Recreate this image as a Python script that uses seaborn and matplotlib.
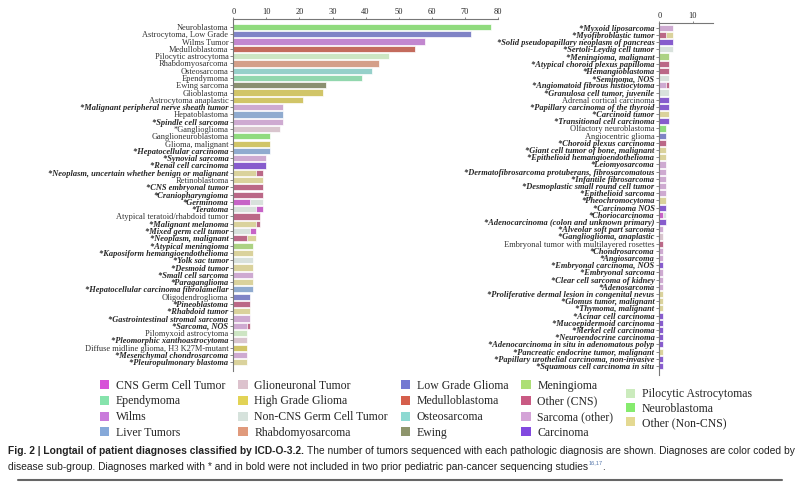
import matplotlib
matplotlib.use('Agg')
import pandas as pd
import seaborn as sns
import matplotlib.pyplot as plt
from matplotlib.patches import Patch
from matplotlib import font_manager

# --- data -------------------------------------------------------------
left_labels = [
    'Neuroblastoma', 'Astrocytoma, Low Grade', 'Wilms Tumor', 'Medulloblastoma',
    'Pilocytic astrocytoma', 'Rhabdomyosarcoma', 'Osteosarcoma', 'Ependymoma',
    'Ewing sarcoma', 'Glioblastoma', 'Astrocytoma anaplastic',
    '*Malignant peripheral nerve sheath tumor', 'Hepatoblastoma',
    '*Spindle cell sarcoma', '*Ganglioglioma', 'Ganglioneuroblastoma',
    'Glioma, malignant', '*Hepatocellular carcinoma', '*Synovial sarcoma',
    '*Renal cell carcinoma', '*Neoplasm, uncertain whether benign or malignant',
    'Retinoblastoma', '*CNS embryonal tumor', '*Craniopharyngioma', '*Germinoma',
    '*Teratoma', 'Atypical teratoid/rhabdoid tumor', '*Malignant melanoma',
    '*Mixed germ cell tumor', '*Neoplasm, malignant', '*Atypical meningioma',
    '*Kaposiform hemangioendothelioma', '*Yolk sac tumor', '*Desmoid tumor',
    '*Small cell sarcoma', '*Paraganglioma',
    '*Hepatocellular carcinoma fibrolamellar', 'Oligodendroglioma',
    '*Pineoblastoma', '*Rhabdoid tumor', '*Gastrointestinal stromal sarcoma',
    '*Sarcoma, NOS', 'Pilomyxoid astrocytoma', '*Pleomorphic xanthoastrocytoma',
    'Diffuse midline glioma, H3 K27M-mutant', '*Mesenchymal chondrosarcoma',
    '*Pleuropulmonary blastoma',
]
left_n1 = [78, 72, 58, 55, 47, 44, 42, 39, 28, 27, 21, 15, 15, 15, 14, 11, 11, 11,
           10, 10, 7, 9, 9, 9, 5, 7, 8, 7, 5, 4, 6, 6, 6, 6, 6, 6, 6, 5, 5, 5, 5,
           4, 4, 4, 4, 4, 4]
left_g1 = [
    'Neuroblastoma', 'Low Grade Glioma', 'Wilms', 'Medulloblastoma',
    'Pilocytic Astrocytomas', 'Rhabdomyosarcoma', 'Osteosarcoma', 'Ependymoma',
    'Ewing', 'High Grade Glioma', 'High Grade Glioma', 'Sarcoma (other)',
    'Liver Tumors', 'Sarcoma (other)', 'Glioneuronal Tumor', 'Neuroblastoma',
    'High Grade Glioma', 'Liver Tumors', 'Sarcoma (other)', 'Carcinoma',
    'Other (Non-CNS)', 'Other (Non-CNS)', 'Other (CNS)', 'Other (CNS)',
    'CNS Germ Cell Tumor', 'Non-CNS Germ Cell Tumor', 'Other (CNS)',
    'Other (Non-CNS)', 'Non-CNS Germ Cell Tumor', 'Other (CNS)', 'Meningioma',
    'Other (Non-CNS)', 'Non-CNS Germ Cell Tumor', 'Other (Non-CNS)',
    'Sarcoma (other)', 'Other (Non-CNS)', 'Liver Tumors', 'Low Grade Glioma',
    'Other (CNS)', 'Other (Non-CNS)', 'Sarcoma (other)', 'Sarcoma (other)',
    'Pilocytic Astrocytomas', 'Glioneuronal Tumor', 'High Grade Glioma',
    'Sarcoma (other)', 'Other (Non-CNS)',
]
left_n2 = [0] * 20 + [2, 0, 0, 0, 4, 2, 0, 1, 2, 3] + [0] * 11 + [1] + [0] * 5
left_g2 = [None] * 20 + ['Other (CNS)', None, None, None, 'Non-CNS Germ Cell Tumor',
                         'CNS Germ Cell Tumor', None, 'Other (CNS)',
                         'CNS Germ Cell Tumor', 'Other (Non-CNS)'] \
          + [None] * 11 + ['Other (CNS)'] + [None] * 5

right_labels = [
    '*Myxoid liposarcoma', '*Myofibroblastic tumor',
    '*Solid pseudopapillary neoplasm of pancreas', '*Sertoli-Leydig cell tumor',
    '*Meningioma, malignant', '*Atypical choroid plexus papilloma',
    '*Hemangioblastoma', '*Seminoma, NOS', '*Angiomatoid fibrous histiocytoma',
    '*Granulosa cell tumor, juvenile', 'Adrenal cortical carcinoma',
    '*Papillary carcinoma of the thyroid', '*Carcinoid tumor',
    '*Transitional cell carcinoma', 'Olfactory neuroblastoma',
    'Angiocentric glioma', '*Choroid plexus carcinoma',
    '*Giant cell tumor of bone, malignant', '*Epithelioid hemangioendothelioma',
    '*Leiomyosarcoma', '*Dermatofibrosarcoma protuberans, fibrosarcomatous',
    '*Infantile fibrosarcoma', '*Desmoplastic small round cell tumor',
    '*Epithelioid sarcoma', '*Pheochromocytoma', '*Carcinoma NOS',
    '*Choriocarcinoma', '*Adenocarcinoma (colon and unknown primary)',
    '*Alveolar soft part sarcoma', '*Ganglioglioma, anaplastic',
    'Embryonal tumor with multilayered rosettes', '*Chondrosarcoma',
    '*Angiosarcoma', '*Embryonal carcinoma, NOS', '*Embryonal sarcoma',
    '*Clear cell sarcoma of kidney', '*Adenosarcoma',
    '*Proliferative dermal lesion in congenital nevus',
    '*Glomus tumor, malignant', '*Thymoma, malignant', '*Acinar cell carcinoma',
    '*Mucoepidermoid carcinoma', '*Merkel cell carcinoma',
    '*Neuroendocrine carcinoma', '*Adenocarcinoma in situ in adenomatous polyp',
    '*Pancreatic endocrine tumor, malignant',
    '*Papillary urothelial carcinoma, non-invasive',
    '*Squamous cell carcinoma in situ',
]
right_n1 = [4, 2, 4, 4, 3, 3, 3, 3, 2, 3, 3, 3, 3, 3, 2, 2, 2, 2, 2, 2, 2, 2, 2,
            2, 2, 2, 1, 2, 1, 1, 1, 1, 1, 1, 1, 1, 1, 1, 1, 1, 1, 1, 1, 1, 1, 1,
            1, 1]
right_g1 = [
    'Sarcoma (other)', 'Other (CNS)', 'Carcinoma', 'Non-CNS Germ Cell Tumor',
    'Meningioma', 'Other (CNS)', 'Other (CNS)', 'Non-CNS Germ Cell Tumor',
    'Sarcoma (other)', 'Non-CNS Germ Cell Tumor', 'Carcinoma', 'Carcinoma',
    'Other (Non-CNS)', 'Carcinoma', 'Neuroblastoma', 'Low Grade Glioma',
    'Other (CNS)', 'Other (Non-CNS)', 'Other (Non-CNS)', 'Sarcoma (other)',
    'Sarcoma (other)', 'Sarcoma (other)', 'Sarcoma (other)', 'Sarcoma (other)',
    'Other (Non-CNS)', 'Carcinoma', 'CNS Germ Cell Tumor', 'Carcinoma',
    'Sarcoma (other)', 'Glioneuronal Tumor', 'Other (CNS)', 'Sarcoma (other)',
    'Sarcoma (other)', 'Carcinoma', 'Sarcoma (other)', 'Sarcoma (other)',
    'Sarcoma (other)', 'Other (Non-CNS)', 'Other (Non-CNS)', 'Other (Non-CNS)',
    'Carcinoma', 'Carcinoma', 'Carcinoma', 'Carcinoma', 'Carcinoma',
    'Other (Non-CNS)', 'Carcinoma', 'Carcinoma',
]
right_n2 = [0, 2] + [0] * 6 + [1] + [0] * 17 + [1] + [0] * 21
right_g2 = [None, 'Other (Non-CNS)'] + [None] * 6 + ['Other (CNS)'] + [None] * 17 \
           + ['Non-CNS Germ Cell Tumor'] + [None] * 21

# starred but printed in regular weight
plain_starred = ['*Ganglioglioma']

legend_main = [
    'CNS Germ Cell Tumor', 'Ependymoma', 'Wilms', 'Liver Tumors',
    'Glioneuronal Tumor', 'High Grade Glioma', 'Non-CNS Germ Cell Tumor', 'Rhabdomyosarcoma',
    'Low Grade Glioma', 'Medulloblastoma', 'Osteosarcoma', 'Ewing',
    'Meningioma', 'Other (CNS)', 'Sarcoma (other)', 'Carcinoma',
]
legend_side = ['Pilocytic Astrocytomas', 'Neuroblastoma', 'Other (Non-CNS)']

palette = {
    'CNS Germ Cell Tumor': '#d752d8', 'Ependymoma': '#86e3ac',
    'Wilms': '#c97bdb', 'Liver Tumors': '#86a9d9',
    'Glioneuronal Tumor': '#dcc2cd', 'High Grade Glioma': '#e2d356',
    'Non-CNS Germ Cell Tumor': '#d6e2dc', 'Rhabdomyosarcoma': '#e09a7c',
    'Low Grade Glioma': '#7479d2', 'Medulloblastoma': '#d55f4c',
    'Osteosarcoma': '#8dd9d2', 'Ewing': '#8e956c',
    'Meningioma': '#addf76', 'Other (CNS)': '#c95a83',
    'Sarcoma (other)': '#d4a3d7', 'Carcinoma': '#8249e0',
    'Pilocytic Astrocytomas': '#cbebbd', 'Neuroblastoma': '#86eb6e',
    'Other (Non-CNS)': '#e4d992',
}

caption_bold = 'Fig. 2 | Longtail of patient diagnoses classified by ICD-O-3.2.'
caption_rest = ('The number of tumors sequenced with each pathologic diagnosis are shown. '
                'Diagnoses are color coded by')
caption_line2 = ('disease sub-group. Diagnoses marked with * and in bold were not included '
                 'in two prior pediatric pan-cancer sequencing studies')

# --- plotting -----------------------------------------------------------
sns.set_theme(style='ticks')
plt.rcParams['font.family'] = ['Liberation Serif', 'DejaVu Serif']

fig = plt.figure(figsize=(8, 4.83), dpi=100)
ax_l = fig.add_axes([0.2917, 0.2319, 0.3305, 0.7288])
ax_r = fig.add_axes([0.8241, 0.2236, 0.0667, 0.7294])


def draw_panel(ax, labels, n1, g1, n2, g2, xmax, xticks, ylim):
    df = pd.DataFrame({'label': labels, 'n1': n1, 'g1': g1, 'n2': n2, 'g2': g2})
    df['total'] = df['n1'] + df['n2']
    stacked = df[df['n2'] > 0]
    kw = dict(order=labels, dodge=False, width=0.85, edgecolor='white',
              linewidth=0.5, legend=False, errorbar=None, orient='h', ax=ax)
    sns.barplot(data=stacked, x='total', y='label', hue='g2', palette=palette, **kw)
    sns.barplot(data=df, x='n1', y='label', hue='g1', palette=palette, **kw)
    ax.set_xlim(0, xmax)
    ax.set_ylim(*ylim)
    ax.set_xticks(xticks)
    ax.set_xlabel('')
    ax.set_ylabel('')
    ax.xaxis.tick_top()
    ax.tick_params(axis='x', top=True, bottom=False, length=1.5, width=0.6,
                   labelsize=6, pad=0.5, color='#777777')
    ax.tick_params(axis='y', left=True, length=2, width=0.6, labelsize=6,
                   pad=1.5, color='#777777')
    for side in ['right', 'bottom']:
        ax.spines[side].set_visible(False)
    for side in ['left', 'top']:
        ax.spines[side].set_color('#777777')
        ax.spines[side].set_linewidth(0.8)
    for t in ax.get_yticklabels():
        txt = t.get_text()
        if txt.startswith('*') and txt not in plain_starred:
            t.set_fontweight('bold')
            t.set_fontstyle('italic')
        else:
            t.set_color('#333333')


draw_panel(ax_l, left_labels, left_n1, left_g1, left_n2, left_g2,
           80, range(0, 81, 10), (47.2, -1.1))
draw_panel(ax_r, right_labels, right_n1, right_g1, right_n2, right_g2,
           16, [0, 10], (48.25, -0.7))

# legends
leg_kw = dict(frameon=False, fontsize=8.5, borderpad=0, borderaxespad=0,
              handlelength=0.8, handleheight=0.8, handletextpad=0.55)
h_main = [Patch(facecolor=palette[k], edgecolor='none') for k in legend_main]
fig.legend(h_main, legend_main, ncol=4, loc='upper left',
           bbox_to_anchor=(0.125, 0.214), columnspacing=1.1, labelspacing=0.32,
           **leg_kw)
h_side = [Patch(facecolor=palette[k], edgecolor='none') for k in legend_side]
fig.legend(h_side, legend_side, ncol=1, loc='upper left',
           bbox_to_anchor=(0.7825, 0.196), labelspacing=0.2, **leg_kw)

# caption
names = {f.name for f in font_manager.fontManager.ttflist}
cap_font = 'Liberation Sans Narrow' if 'Liberation Sans Narrow' in names else 'Liberation Sans'
renderer = fig.canvas.get_renderer()
x0 = 8 / 800
y1 = 1 - 451 / 483
y2 = 1 - 467 / 483


def caption(size):
    arts = []
    tb = fig.text(x0, y1, caption_bold, fontsize=size, fontweight='bold',
                  family=cap_font, va='center', color='#222222')
    bb = tb.get_window_extent(renderer)
    tr = fig.text((bb.x1 + 3) / 800, y1, caption_rest, fontsize=size,
                  family=cap_font, va='center', color='#222222')
    arts += [tb, tr]
    t2 = fig.text(x0, y2, caption_line2, fontsize=size, family=cap_font,
                  va='center', color='#222222')
    bb2 = t2.get_window_extent(renderer)
    ts = fig.text(bb2.x1 / 800, y2 + 0.009, '16,17', fontsize=size * 0.55,
                  family=cap_font, va='center', color='#5577aa')
    bb3 = ts.get_window_extent(renderer)
    td = fig.text(bb3.x1 / 800, y2, '.', fontsize=size, family=cap_font,
                  va='center', color='#222222')
    arts += [t2, ts, td]
    return arts, tr.get_window_extent(renderer).x1


arts, right_edge = caption(7.2)
scale = (790 - 8) / (right_edge - 8)
for a in arts:
    a.remove()
caption(7.2 * scale)

fig.add_artist(plt.Line2D([0.022, 0.978], [1 - 480 / 483] * 2,
                          transform=fig.transFigure, color='#666666', lw=1.5))

fig.savefig('out.png', dpi=100)
